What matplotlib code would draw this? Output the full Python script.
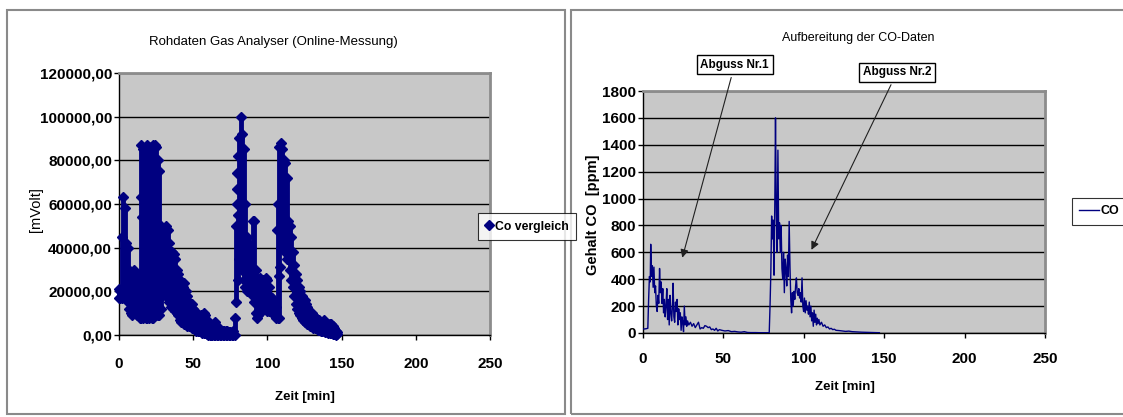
import matplotlib
matplotlib.use("Agg")
import matplotlib.pyplot as plt
from matplotlib.patches import Rectangle
from matplotlib.lines import Line2D
from matplotlib.ticker import FuncFormatter, MultipleLocator

# --- left chart: raw gas analyser signal (band per minute: low / high) ---
mv_time = list(range(0, 148))
mv_low = [17000, 17000, 17000, 20000, 18000, 18000, 15000, 12000, 10000, 9000,
          10000, 10000, 9000, 9000, 8000, 8000, 8000, 9000, 8000, 8000,
          8000, 9000, 8000, 8000, 9000, 9000, 9000, 9000, 12000, 18000,
          20000, 20000, 18000, 17000, 15000, 13000, 13000, 12000, 11000, 10000,
          9000, 7000, 6000, 6000, 5000, 5000, 4000, 4000, 4000, 3000,
          3000, 3000, 2000, 2000, 2000, 2000, 1000, 1000, 1000, 500,
          0, 0, 0, 0, 0, 0, 0, 0, 0, 0,
          0, 0, 0, 0, 0, 0, 0, 0, 0, 15000,
          25000, 35000, 40000, 30000, 25000, 22000, 20000, 22000, 20000, 20000,
          18000, 15000, 10000, 8000, 9000, 10000, 12000, 14000, 15000, 12000,
          11000, 11000, 11000, 10000, 10000, 9000, 8000, 8000, 8000, 40000,
          45000, 40000, 38000, 35000, 35000, 30000, 25000, 22000, 18000, 14000,
          12000, 10000, 9000, 8000, 7000, 6000, 6000, 5000, 5000, 4000,
          4000, 3000, 3000, 3000, 2500, 2500, 2000, 2000, 2000, 1500,
          1500, 1000, 1000, 1000, 500, 500, 0, 500]
mv_high = [21000, 20000, 45000, 63000, 58000, 42000, 40000, 30000, 27000, 25000,
           30000, 29000, 28000, 22000, 20000, 87000, 85000, 60000, 65000, 87000,
           86000, 70000, 80000, 87000, 87000, 86000, 80000, 75000, 50000, 48000,
           45000, 47000, 50000, 48000, 42000, 35000, 38000, 37000, 35000, 30000,
           28000, 25000, 24000, 22000, 24000, 20000, 18000, 15000, 14000, 14000,
           12000, 11000, 10000, 9000, 8000, 9000, 8000, 10000, 9000, 7000,
           6000, 5000, 4000, 3000, 5000, 6000, 4000, 3000, 2500, 2000,
           2000, 2000, 2000, 2000, 1500, 1500, 1500, 2000, 8000, 50000,
           55000, 90000, 100000, 92000, 85000, 60000, 45000, 42000, 38000, 40000,
           52000, 52000, 30000, 25000, 22000, 26000, 24000, 25000, 20000, 26000,
           25000, 22000, 18000, 17000, 16000, 15000, 13000, 60000, 86000, 88000,
           85000, 80000, 79000, 72000, 52000, 50000, 45000, 38000, 32000, 28000,
           25000, 22000, 20000, 18000, 16000, 16000, 14000, 13000, 11000, 10000,
           10000, 9000, 8000, 8000, 7000, 7000, 6000, 6000, 7000, 6000,
           5000, 5000, 5000, 5000, 4000, 3000, 2000, 1500]
# loose points between the dense columns
mv_extra_time = [15, 15.3, 18, 19, 19.5, 20, 21, 22.5, 23, 25.5, 26,
                 79.5, 79.5, 79.5, 80, 106.5, 107.5, 108.5]
mv_extra_val = [63000, 54000, 36000, 34000, 23000, 48000, 41000, 33000, 21000, 27000, 30000,
                60000, 67000, 74000, 82000, 48000, 27000, 31000]

# --- right chart: processed CO data ---
co_time = [0, 1, 2, 3, 3.5, 4, 4.5, 4.8, 5.3, 5.8, 6.3, 6.8, 7.3, 7.8, 8.3, 8.8, 9.3, 9.8,
           10.3, 10.8, 11.3, 11.8, 12.3, 12.8, 13.3, 13.8, 14.3, 14.8, 15.3, 15.8, 16.3,
           16.8, 17.3, 17.8, 18.3, 18.7, 19.2, 19.7, 20.2, 20.7, 21.2, 21.7, 22.2, 22.7,
           23.2, 23.7, 24.2, 24.7, 25.2, 25.7, 26.2, 26.7, 27.2, 27.7, 28.5, 29.5, 30.5,
           31.5, 32.5, 33.5, 34.5, 35.5, 36.5, 37.5, 38.5, 39.5, 40.5, 41.5, 42.5, 43.5,
           44.5, 45.5, 46.5, 47.5, 49, 51, 53, 55, 57, 59, 61, 63, 65, 67, 70, 73, 76,
           78.5, 79, 79.5, 80, 80.5, 81, 81.5, 82, 82.4, 82.9, 83.4, 83.9, 84.4, 84.9,
           85.4, 85.9, 86.4, 86.9, 87.4, 87.9, 88.4, 88.9, 89.4, 89.9, 90.4, 90.9, 91.4,
           91.9, 92.4, 92.9, 93.4, 93.9, 94.4, 94.9, 95.4, 95.9, 96.4, 96.9, 97.4, 97.9,
           98.4, 98.9, 99.4, 99.9, 100.4, 100.9, 101.4, 101.9, 102.4, 102.9, 103.4,
           103.9, 104.4, 104.9, 105.4, 105.9, 106.4, 106.9, 107.4, 107.9, 108.4, 108.9,
           109.4, 110, 111, 112, 113, 114, 115, 116, 117, 118, 119, 120, 122, 124, 126,
           128, 130, 133, 136, 139, 142, 145, 147]
co_ppm = [30, 30, 32, 35, 250, 420, 380, 660, 420, 500, 340, 490, 300, 350, 200, 160, 280, 220,
          480, 300, 380, 220, 330, 150, 250, 120, 200, 330, 100, 250, 60,
          280, 150, 90, 200, 370, 120, 80, 230, 160, 250, 60, 180, 100,
          150, 20, 120, 80, 10, 200, 60, 120, 50, 90, 60, 80, 50,
          70, 40, 60, 80, 30, 40, 35, 55, 50, 40, 45, 25, 30,
          20, 35, 15, 25, 20, 15, 18, 10, 12, 8, 6, 10, 4, 3, 3, 2, 2,
          2, 200, 450, 870, 700, 840, 430, 1000, 1600, 900, 600, 1360, 700, 820,
          600, 800, 480, 400, 600, 300, 550, 480, 350, 580, 420, 830, 500,
          250, 150, 300, 200, 310, 250, 350, 410, 300, 280, 330, 260, 300,
          230, 410, 200, 160, 260, 150, 240, 170, 200, 140, 230,
          120, 200, 90, 150, 50, 170, 80, 140, 60, 110, 70,
          100, 60, 80, 50, 60, 40, 45, 30, 35, 25, 28, 20, 18, 15, 12,
          14, 10, 8, 6, 5, 4, 3, 2]

x_ticks = [0, 50, 100, 150, 200, 250]
navy = "#000080"
font = ["Liberation Sans", "DejaVu Sans"]
plt.rcParams["font.family"] = font

W, H = 1123, 417
fig = plt.figure(figsize=(W / 100, H / 100), dpi=100)
fig.patch.set_facecolor("white")


def box(x0, y0, x1, y1):
    # pixel box (top-left origin) -> figure fraction
    return [x0 / W, 1 - y1 / H, (x1 - x0) / W, (y1 - y0) / H]


def ftext(x, y, s, **kw):
    fig.text(x / W, 1 - y / H, s, ha="center", va="center", **kw)


# chart frames
for x0, x1 in [(7, 565), (571, 1130)]:
    fig.patches.append(Rectangle((x0 / W, 1 - 414 / H), (x1 - x0) / W, 404 / H,
                                 transform=fig.transFigure, facecolor="none",
                                 edgecolor="#8a8a8a", linewidth=1.5, zorder=-5))


def style_axes(ax):
    ax.set_facecolor("#c8c8c8")
    for s in ["top", "right"]:
        ax.spines[s].set_color("#8c8c8c")
        ax.spines[s].set_linewidth(2)
    for s in ["left", "bottom"]:
        ax.spines[s].set_color("black")
        ax.spines[s].set_linewidth(1)
    ax.yaxis.grid(True, color="black", linewidth=1)
    ax.set_axisbelow(True)
    ax.tick_params(direction="out", length=3.5, width=1)
    ax.tick_params(axis="y", pad=1.5)
    for lab in ax.get_xticklabels() + ax.get_yticklabels():
        lab.set_fontweight("bold")
        lab.set_fontsize(11)


# ---------------- left chart ----------------
ax1 = fig.add_axes(box(119, 73, 490, 335))
ax1.vlines(mv_time, mv_low, mv_high, color=navy, linewidth=3.5, zorder=3, clip_on=False)
ax1.plot(mv_time, mv_low, "D", color=navy, ms=5, zorder=3, clip_on=False)
ax1.plot(mv_time, mv_high, "D", color=navy, ms=5, zorder=3, clip_on=False)
ax1.plot(mv_extra_time, mv_extra_val, "D", color=navy, ms=5, zorder=3, clip_on=False)
ax1.set_xlim(0, 250)
ax1.set_ylim(0, 120000)
ax1.set_xticks(x_ticks)
ax1.yaxis.set_major_locator(MultipleLocator(20000))
ax1.yaxis.set_major_formatter(FuncFormatter(lambda v, p: f"{v:.2f}".replace(".", ",")))
style_axes(ax1)
ax1.tick_params(axis="x", pad=12)
ax1.set_ylabel("[mVolt]", fontsize=10.5)
ax1.yaxis.set_label_coords(-0.205, 0.477)
ftext(273, 42, "Rohdaten Gas Analyser (Online-Messung)", fontsize=9.5)
ftext(305, 397, "Zeit [min]", fontsize=9.5, fontweight="bold")
leg1 = ax1.legend([Line2D([], [], marker="D", color=navy, linestyle="none", ms=5)],
                  ["Co vergleich"], loc="center left", bbox_to_anchor=(0.9677, 0.414),
                  borderaxespad=0, frameon=True, fancybox=False, edgecolor="black",
                  handlelength=0.6, handletextpad=0.2, borderpad=0.6,
                  prop={"weight": "bold", "size": 8.8})
leg1.get_frame().set_linewidth(0.8)

# ---------------- right chart ----------------
ax2 = fig.add_axes(box(643, 91, 1045, 333))
ax2.plot(co_time, co_ppm, color=navy, linewidth=1, label="CO", zorder=3)
ax2.set_xlim(0, 250)
ax2.set_ylim(0, 1800)
ax2.set_xticks(x_ticks)
ax2.yaxis.set_major_locator(MultipleLocator(200))
style_axes(ax2)
ax2.tick_params(axis="x", pad=10)
ax2.set_ylabel("Gehalt CO  [ppm]", fontweight="bold", fontsize=10.5)
ax2.yaxis.set_label_coords(-0.107, 0.488)
ftext(858, 38, "Aufbereitung der CO-Daten", fontsize=9)
ftext(845, 387, "Zeit [min]", fontsize=9.5, fontweight="bold")
leg2 = ax2.legend(loc="center left", bbox_to_anchor=(1.067, 0.504), borderaxespad=0,
                  frameon=True, fancybox=False, edgecolor="black", handlelength=1.6,
                  handletextpad=0.1, borderpad=0.6, prop={"weight": "bold", "size": 9})
leg2.get_frame().set_linewidth(0.8)

bbox_style = dict(boxstyle="square,pad=0.3", facecolor="white", edgecolor="black", linewidth=1)
arrow_style = dict(arrowstyle="-|>", color="#202020", linewidth=0.8, mutation_scale=12)
ax2.annotate("Abguss Nr.1", xy=(24, 540), xytext=(57, 1995), fontweight="bold",
             fontsize=8.5, ha="center", va="center", bbox=bbox_style, arrowprops=arrow_style,
             annotation_clip=False)
ax2.annotate("Abguss Nr.2", xy=(104, 600), xytext=(158, 1940), fontweight="bold",
             fontsize=8.5, ha="center", va="center", bbox=bbox_style, arrowprops=arrow_style,
             annotation_clip=False)

fig.savefig("out.png", dpi=100)
